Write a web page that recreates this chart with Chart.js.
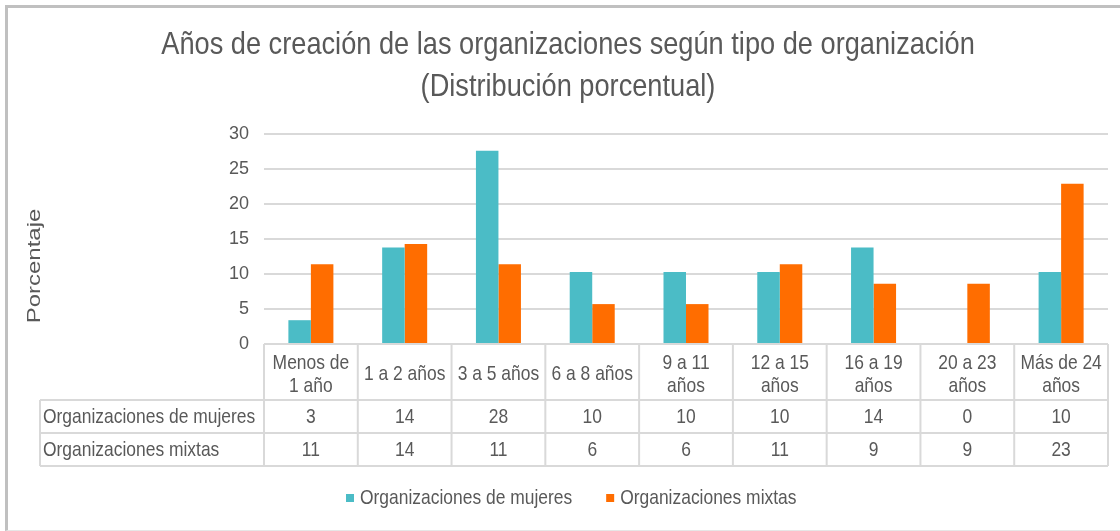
<!DOCTYPE html>
<html>
<head>
<meta charset="utf-8">
<script src="https://cdn.jsdelivr.net/npm/chart.js@4"></script>
<style>
  html, body { margin: 0; padding: 0; background: #fff; }
  #wrap { position: relative; width: 1120px; height: 531px; overflow: hidden; }
  #frame { position: absolute; left: 5px; top: 5px; width: 1200px; height: 522px;
           border-left: 3px solid #c0c0c0; border-top: 3px solid #c0c0c0; border-bottom: 1px solid #e6e6e6; }
  canvas { position: absolute; left: 0; top: 0; }
</style>
</head>
<body>
<div id="wrap">
  <div id="frame"></div>
  <canvas id="grafico" width="1120" height="531"></canvas>
</div>
<script>
const titulo = ['Años de creación de las organizaciones según tipo de organización', '(Distribución porcentual)']
const categorias = [
  ['Menos de', '1 año'], '1 a 2 años', '3 a 5 años', '6 a 8 años',
  ['9 a 11', 'años'], ['12 a 15', 'años'], ['16 a 19', 'años'],
  ['20 a 23', 'años'], ['Más de 24', 'años']
]
const org_mujeres = [3.4, 13.8, 27.6, 10.3, 10.3, 10.3, 13.8, 0, 10.3]
const org_mixtas = [11.4, 14.3, 11.4, 5.7, 5.7, 11.4, 8.6, 8.6, 22.9]
const ticks_y = [0, 5, 10, 15, 20, 25, 30]

const gris = '#595959'
const linea = '#d9d9d9'
const fuente = '"Liberation Sans", Arial, sans-serif'

// texto algo estrecho (la imagen original esta comprimida en horizontal)
function texto(ctx, str, x, y, align, size, esc) {
  ctx.save()
  ctx.translate(x, y)
  ctx.scale(esc, 1)
  ctx.font = size + 'px ' + fuente
  ctx.textAlign = align
  ctx.textBaseline = 'middle'
  ctx.fillText(str, 0, 0)
  const w = ctx.measureText(str).width * esc
  ctx.restore()
  return w
}

// titulo, tabla de datos debajo del eje x, leyenda y titulo del eje y
const tablaDatos = {
  id: 'tablaDatos',
  afterDraw(chart) {
    const ctx = chart.ctx
    const x = chart.scales.x
    const area = chart.chartArea
    const filas = [area.bottom, 400, 433, 466]
    const izq = 40
    const paso = (area.right - area.left) / categorias.length
    const esc = 0.83

    ctx.save()
    ctx.fillStyle = gris
    texto(ctx, titulo[0], 568, 45, 'center', 32, 0.85)
    texto(ctx, titulo[1], 568, 87, 'center', 32, 0.85)

    ctx.strokeStyle = linea
    ctx.lineWidth = 2
    ctx.beginPath()
    ctx.moveTo(area.left, filas[0]); ctx.lineTo(area.right, filas[0])
    for (let i = 1; i < filas.length; i++) {
      ctx.moveTo(izq, filas[i]); ctx.lineTo(area.right, filas[i])
    }
    for (let i = 0; i <= categorias.length; i++) {
      const xx = area.left + i * paso
      ctx.moveTo(xx, filas[0]); ctx.lineTo(xx, filas[3])
    }
    ctx.moveTo(izq, filas[1]); ctx.lineTo(izq, filas[3])
    ctx.stroke()

    categorias.forEach((c, i) => {
      const cx = x.getPixelForValue(i)
      if (Array.isArray(c)) {
        texto(ctx, c[0], cx, 363, 'center', 21, esc)
        texto(ctx, c[1], cx, 386, 'center', 21, esc)
      } else {
        texto(ctx, c, cx, 374, 'center', 21, esc)
      }
    })
    chart.data.datasets.forEach((ds, j) => {
      const cy = (filas[j + 1] + filas[j + 2]) / 2 + 1
      texto(ctx, ds.label, izq + 3, cy, 'left', 21, esc)
      ds.data.forEach((v, i) => {
        texto(ctx, Math.round(v).toString(), x.getPixelForValue(i), cy, 'center', 21, esc)
      })
    })

    // leyenda
    const ly = 498
    let lx = 346
    chart.data.datasets.forEach((ds) => {
      ctx.fillStyle = ds.backgroundColor
      ctx.fillRect(lx, ly - 4, 8, 8)
      ctx.fillStyle = gris
      const w = texto(ctx, ds.label, lx + 14, ly, 'left', 21, esc)
      lx += 14 + w + 34
    })

    // titulo del eje y
    ctx.translate(35, 266)
    ctx.scale(0.78, 1)
    ctx.rotate(-Math.PI / 2)
    ctx.font = '24px ' + fuente
    ctx.textAlign = 'center'
    ctx.textBaseline = 'middle'
    ctx.fillText('Porcentaje', 0, 0)
    ctx.restore()
  }
}

const ctx_grafico = document.getElementById('grafico').getContext('2d')

let grafico = new Chart(ctx_grafico, {
  type: 'bar',
  data: {
    labels: categorias,
    datasets: [{
      label: 'Organizaciones de mujeres',
      data: org_mujeres,
      backgroundColor: '#4BBCC6',
      barPercentage: 1,
      categoryPercentage: 0.48
    }, {
      label: 'Organizaciones mixtas',
      data: org_mixtas,
      backgroundColor: '#FF6D00',
      barPercentage: 1,
      categoryPercentage: 0.48
    }]
  },
  options: {
    responsive: false,
    animation: false,
    devicePixelRatio: 1,
    layout: {
      padding: { left: 20, right: 12, top: 134, bottom: 0 }
    },
    plugins: {
      legend: { display: false },
      tooltip: { enabled: false },
      title: { display: false }
    },
    scales: {
      x: {
        grid: { display: false },
        border: { display: false },
        ticks: { display: false },
        afterFit(scale) { scale.height = 531 - 344 }
      },
      y: {
        min: 0,
        max: 30,
        afterBuildTicks(scale) { scale.ticks = ticks_y.map(v => ({ value: v })) },
        afterFit(scale) { scale.width = 264 - 20 },
        grid: { color: linea, lineWidth: 2, drawTicks: false },
        border: { display: false },
        ticks: {
          color: gris,
          padding: 15,
          font: { family: fuente, size: 18 }
        }
      }
    }
  },
  plugins: [tablaDatos]
})
</script>
</body>
</html>
